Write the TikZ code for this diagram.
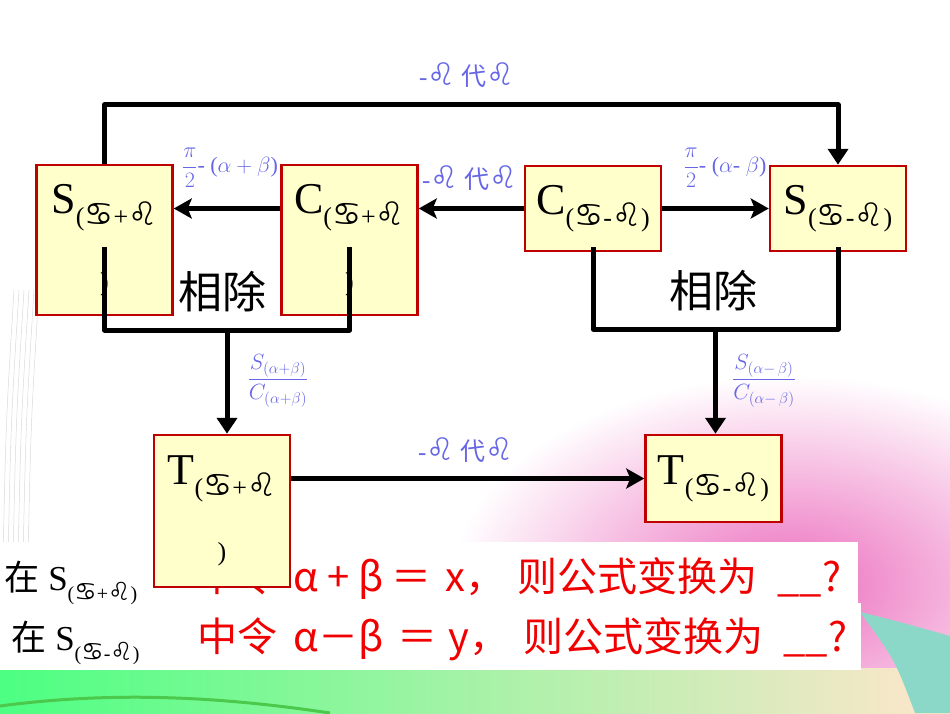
\RequirePackage{fix-cm}
\documentclass[tikz,border=0pt]{standalone}
\usepackage{graphicx}
\usepackage{fontspec}
\setmainfont{Liberation Serif}
\newfontfamily\cjk{Noto Sans CJK SC}
\newfontfamily\symb{DejaVu Sans}
\usetikzlibrary{arrows.meta, calc}
\definecolor{boxfill}  {RGB}{255, 255, 204}
\definecolor{boxedge}  {RGB}{192, 0, 0}
\definecolor{labelblue}{RGB}{102, 102, 230}
\definecolor{qred}     {RGB}{240, 0, 0}
\definecolor{glowpink} {RGB}{236, 110, 190}

\newcommand\sgnA{\scalebox{1.25}{\symb ♋}}
\newcommand\sgnB{\scalebox{1.25}{\symb ♌}}
\newcommand\lowsub[1]{\raisebox{-12pt}{\fontsize{26}{28}\selectfont #1}}
\newcommand\bigletter[1]{{\fontsize{44}{50}\selectfont #1}}
\newcommand\subtail{{\fontsize{26}{28}\selectfont )}}
\newcommand\seg[2]{\makebox[#1][l]{#2}}

\tikzset{
	funcbox/.style={
		rectangle, draw=boxedge, fill=boxfill,
		line width=2.5pt, minimum width=136pt,
		inner sep=0pt, align=center
	},
	link/.style={
		line width=5pt, color=black, line join=round
	},
	harrow/.style={
		link, -{Stealth[length=18pt, width=20pt, inset=4pt]}
	},
	varrow/.style={
		link, -{Triangle[length=16pt, width=20pt]}
	},
	swaplabel/.style={
		text=labelblue, font=\fontsize{25}{27}\selectfont
	},
	mathlabel/.style={
		text=labelblue, font=\fontsize{22}{24}\selectfont
	},
	divlabel/.style={
		font=\cjk\fontsize{44}{48}\selectfont
	},
	question/.style={
		anchor=base west, text=qred, font=\cjk\fontsize{40}{42}\selectfont
	}
}

\begin{document}
\begin{tikzpicture}[x=1pt, y=-1pt]
		\useasboundingbox (0,0) rectangle (950,713);
		
		%% ═══════════════════════════════
		%%  BACKGROUND
		%% ═══════════════════════════════
		\shade[inner color=glowpink, outer color=white] (790,585) ellipse [x radius=340pt, y radius=210pt];
		\foreach \d in {0,12,...,96}
		\draw[gray!35, line width=0.5pt] (330+\d,713) .. controls (360+\d,520+\d) and (600-\d,520+\d) .. (640-\d,713);
		\foreach \i in {0,...,5}
		\draw[gray!30, line width=0.5pt] (3+5*\i,560) .. controls (6+5*\i,420) .. (14+5*\i,290);
		\shade[left color=green!70!cyan!70, middle color=yellow!60!green!40, right color=orange!20] (0,668) rectangle (950,713);
		\draw[green!70!black!70, line width=3pt] (0,706) .. controls (120,690) and (230,698) .. (330,713);
		\fill[cyan!50!green!45] (860,612) .. controls (900,622) .. (950,636) -- (950,713) -- (915,713) .. controls (895,660) .. (860,612);
		
		%% ═══════════════════════════════
		%%  QUESTIONS (white bands)
		%% ═══════════════════════════════
		\fill[white] (0,542) rectangle (858,603);
		\fill[white] (0,603) rectangle (861,670);
		\node[anchor=base west, font=\fontsize{35}{37}\selectfont] (ask1) at (1,590)
		{{\cjk 在} S\raisebox{-10pt}{\fontsize{20}{22}\selectfont (\sgnA+\sgnB)}};
		\node[anchor=base west, font=\fontsize{35}{37}\selectfont] (ask2) at (8,650)
		{{\cjk 在} S\raisebox{-10pt}{\fontsize{20}{22}\selectfont (\sgnA-\sgnB)}};
		\node[question] (q1) at (194,591)
		{\seg{96pt}{中令}\seg{98pt}{α + β}\seg{54pt}{＝}\seg{72pt}{x，}\seg{260pt}{则公式变换为}\_\_?};
		\node[question] (q2) at (194,651)
		{\seg{96pt}{中令}\seg{104pt}{α－β}\seg{51pt}{＝}\seg{75pt}{y，}\seg{260pt}{则公式变换为}\_\_?};
		
		%% ═══════════════════════════════
		%%  ROW 0 — sin / cos boxes
		%% ═══════════════════════════════
		\node[funcbox, minimum height=150pt] (Splus)  at (104.5,240)
		{\bigletter{S}\lowsub{(\sgnA+\sgnB}\\[40pt]\subtail};
		\node[funcbox, minimum height=150pt] (Cplus)  at (349.5,240)
		{\bigletter{C}\lowsub{(\sgnA+\sgnB}\\[40pt]\subtail};
		\node[funcbox, minimum height=85pt]  (Cminus) at (593,208.5)
		{\bigletter{C}\lowsub{(\sgnA-\sgnB)}};
		\node[funcbox, minimum height=85pt]  (Sminus) at (838,208.5)
		{\bigletter{S}\lowsub{(\sgnA-\sgnB)}};
		
		%% ═══════════════════════════════
		%%  ROW 1 — tan boxes
		%% ═══════════════════════════════
		\node[funcbox, minimum height=152pt] (Tplus)  at (222,511)
		{\bigletter{T}\lowsub{(\sgnA+\sgnB}\\[40pt]\subtail};
		\node[funcbox, minimum height=87pt]  (Tminus) at (713.5,478.5)
		{\bigletter{T}\lowsub{(\sgnA-\sgnB)}};
		
		\node[divlabel] (divL) at (222,292) {相除};
		\node[divlabel] (divR) at (713,291) {相除};
		
		\coordinate (joinL) at (227,330);
		\coordinate (joinR) at (715.5,329);
		
		%% ═══════════════════════════════
		%%  ARROWS
		%% ═══════════════════════════════
		
		% -beta for beta, over the top
		\draw[varrow] (Splus.north) -- ++(0,-59) -| (Sminus.north);
		
		% row 0
		\draw[harrow] (Cminus.west) -- (Cminus.west -| Cplus.east);
		\draw[harrow] (Cplus.west |- Cminus.west) -- (Splus.east |- Cminus.west);
		\draw[harrow] (Cminus.east) -- (Sminus.west);
		
		% divide S by C
		\draw[link] ([yshift=-7pt]Splus.center) |- (joinL) -| ([yshift=-7pt]Cplus.center);
		\draw[varrow] (joinL) -- (joinL |- Tplus.north);
		\draw[link] ([yshift=5pt]Cminus.south) |- (joinR) -| ([yshift=5pt]Sminus.south);
		\draw[varrow] (joinR) -- (joinR |- Tminus.north);
		
		% row 1
		\draw[harrow] (Tplus.east |- Tminus.west) -- (Tminus.west);
		
		%% ═══════════════════════════════
		%%  LABELS
		%% ═══════════════════════════════
		\node[swaplabel] (swapTop) at (467,75)  {-\sgnB{} {\cjk 代}\sgnB};
		\node[swaplabel] (swapMid) at (470,178) {-\sgnB{} {\cjk 代}\sgnB};
		\node[swaplabel] (swapBot) at (466,450) {-\sgnB{} {\cjk 代}\sgnB};
		\node[mathlabel] (shiftL) at (230,168) {$\displaystyle\frac{\pi}{2}$- ($\alpha+\beta$)};
		\node[mathlabel] (shiftR) at (725,168) {$\displaystyle\frac{\pi}{2}$- ($\alpha$- $\beta$)};
		\node[mathlabel] (ratioL) at (278,381)
		{$\displaystyle\frac{S_{(\alpha+\beta)}}{C_{(\alpha+\beta)}}$};
		\node[mathlabel] (ratioR) at (764,381)
		{$\displaystyle\frac{S_{(\alpha-\,\beta)}}{C_{(\alpha-\,\beta)}}$};
	\end{tikzpicture}
\end{document}
